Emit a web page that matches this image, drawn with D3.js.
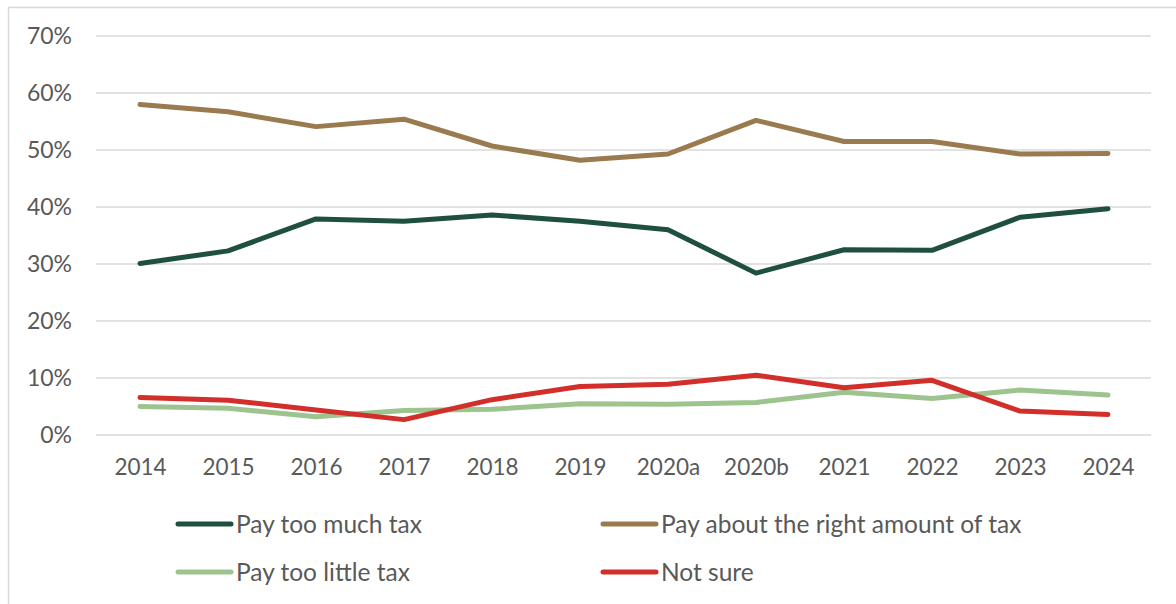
<!DOCTYPE html>
<html>
<head>
<meta charset="utf-8">
<script src="https://cdn.jsdelivr.net/npm/d3@7"></script>
<style>
  html, body { margin: 0; padding: 0; background: #fff; }
  svg { display: block; }
  text { font-family: Lato, "Open Sans", sans-serif; fill: #595959; }
</style>
</head>
<body>
<svg id="chart" width="1176" height="604"></svg>
<script>
// Survey waves
const categories = ["2014", "2015", "2016", "2017", "2018", "2019", "2020a", "2020b", "2021", "2022", "2023", "2024"];

// Share of respondents (%) by answer
const payTooMuch   = [30.1, 32.3, 37.9, 37.5, 38.6, 37.5, 36.0, 28.4, 32.5, 32.4, 38.2, 39.7];
const payAboutRight = [58.0, 56.7, 54.1, 55.4, 50.7, 48.2, 49.3, 55.2, 51.5, 51.5, 49.3, 49.4];
const payTooLittle = [5.0, 4.7, 3.2, 4.3, 4.5, 5.5, 5.4, 5.7, 7.5, 6.4, 7.9, 7.0];
const notSure      = [6.6, 6.1, 4.4, 2.7, 6.2, 8.5, 8.9, 10.5, 8.3, 9.6, 4.2, 3.6];

const yTicks = [0, 10, 20, 30, 40, 50, 60, 70];

const series = [
  { name: "Pay too much tax", values: payTooMuch, color: "#1f4f3f" },
  { name: "Pay about the right amount of tax", values: payAboutRight, color: "#9a7b4f" },
  { name: "Pay too little tax", values: payTooLittle, color: "#9dc38e" },
  { name: "Not sure", values: notSure, color: "#d22f2a" }
];

const svg = d3.select("#chart");

// outer frame (top and left edges)
svg.append("path")
  .attr("d", "M8.5,604 V7.5 H1176")
  .attr("fill", "none")
  .attr("stroke", "#d9d9d9")
  .attr("stroke-width", 1.5);

const plot = { left: 96, right: 1152, top: 36, bottom: 435 };

const x = d3.scalePoint().domain(categories).range([plot.left, plot.right]).padding(0.5);
const y = d3.scaleLinear().domain([0, 70]).range([plot.bottom, plot.top]);

// horizontal gridlines
svg.append("g")
  .selectAll("line")
  .data(yTicks)
  .join("line")
  .attr("x1", plot.left)
  .attr("x2", plot.right - 1)
  .attr("y1", d => y(d))
  .attr("y2", d => y(d))
  .attr("stroke", "#d9d9d9")
  .attr("stroke-width", 1.5);

// y axis labels
const yAxis = d3.axisLeft(y).tickValues(yTicks).tickFormat(d => d + "%").tickSize(0).tickPadding(0);
svg.append("g")
  .attr("transform", "translate(72,0)")
  .call(yAxis)
  .call(g => g.select(".domain").remove())
  .call(g => g.selectAll("text").attr("font-size", 23).style("font-family", "Lato, sans-serif").attr("fill", "#595959"));

// x axis labels
const xAxis = d3.axisBottom(x).tickSize(0).tickPadding(0);
svg.append("g")
  .attr("transform", "translate(0,459)")
  .call(xAxis)
  .call(g => g.select(".domain").remove())
  .call(g => g.selectAll("text").attr("font-size", 22.5).style("font-family", "Lato, sans-serif").attr("fill", "#595959"));

// series lines
const line = d3.line()
  .x((d, i) => x(categories[i]))
  .y(d => y(d));

svg.append("g")
  .selectAll("path")
  .data(series)
  .join("path")
  .attr("d", d => line(d.values))
  .attr("fill", "none")
  .attr("stroke", d => d.color)
  .attr("stroke-width", 5)
  .attr("stroke-linejoin", "round")
  .attr("stroke-linecap", "round");

// legend: two columns, two rows
const legendPos = [
  { x: 178, y: 524 },
  { x: 603, y: 524 },
  { x: 178, y: 572 },
  { x: 603, y: 572 }
];

const legend = svg.append("g")
  .selectAll("g")
  .data(series)
  .join("g")
  .attr("transform", (d, i) => `translate(${legendPos[i].x},${legendPos[i].y})`);

legend.append("line")
  .attr("x1", 0).attr("x2", 53)
  .attr("y1", 0).attr("y2", 0)
  .attr("stroke", d => d.color)
  .attr("stroke-width", 5)
  .attr("stroke-linecap", "round");

legend.append("text")
  .attr("x", 58)
  .attr("y", 0)
  .attr("dy", "0.35em")
  .attr("font-size", 24.5)
  .text(d => d.name);
</script>
</body>
</html>
